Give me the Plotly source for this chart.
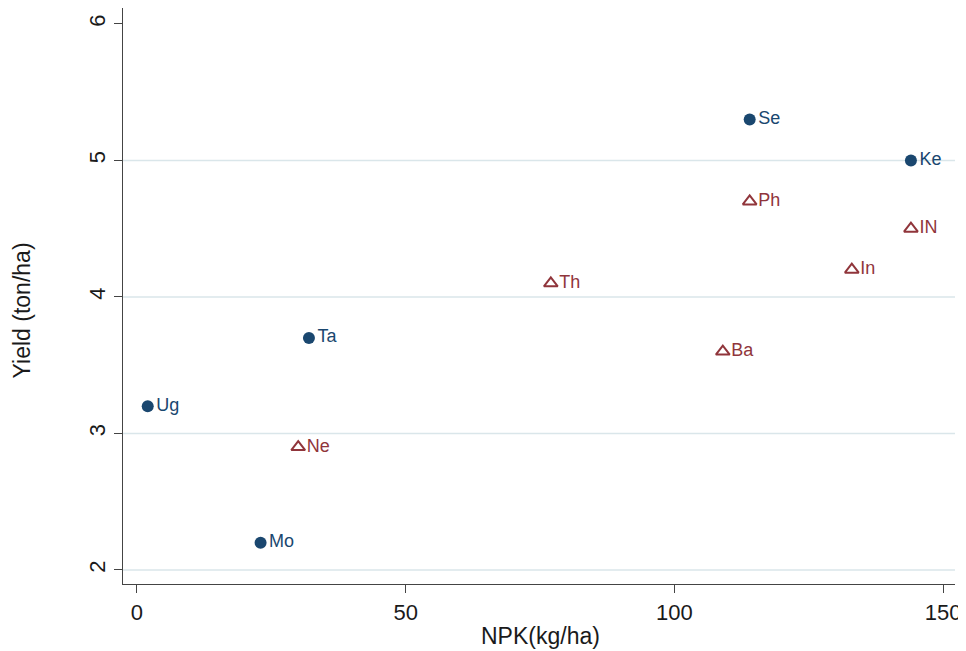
import plotly.graph_objects as go

# Data
circle_labels = ["Ug", "Mo", "Ta", "Se", "Ke"]
circle_npk = [2, 23, 32, 114, 144]
circle_yield = [3.2, 2.2, 3.7, 5.3, 5.0]

tri_labels = ["Ne", "Th", "Ba", "Ph", "In", "IN"]
tri_npk = [30, 77, 109, 114, 133, 144]
tri_yield = [2.9, 4.1, 3.6, 4.7, 4.2, 4.5]

x_ticks = [0, 50, 100, 150]
y_ticks = [2, 3, 4, 5, 6]
grid_vals = [2, 3, 4, 5]

x_title = "NPK(kg/ha)"
y_title = "Yield (ton/ha)"

NAVY = "#1a476f"
MAROON = "#90353b"
FONT = "Liberation Sans, Arial, sans-serif"
TXT = "#1a1a1a"

fig = go.Figure()
fig.add_trace(go.Scatter(
    x=circle_npk, y=circle_yield, text=circle_labels,
    mode="markers+text", textposition="middle right",
    marker=dict(symbol="circle", size=12, color=NAVY),
    textfont=dict(color=NAVY, size=18, family=FONT),
    showlegend=False, cliponaxis=False,
))
fig.add_trace(go.Scatter(
    x=tri_npk, y=tri_yield, text=tri_labels,
    mode="markers+text", textposition="middle right",
    marker=dict(symbol="triangle-up-open", size=12, color=MAROON,
                line=dict(width=2, color=MAROON)),
    textfont=dict(color=MAROON, size=18, family=FONT),
    showlegend=False, cliponaxis=False,
))

shapes = []
for g in grid_vals:
    shapes.append(dict(type="line", xref="paper", x0=0, x1=1, yref="y", y0=g, y1=g,
                       line=dict(color="#dae6ea", width=1.5), layer="below"))

annotations = [
    dict(text=x_title, xref="paper", yref="paper", x=0.502, y=0, yshift=-52,
         showarrow=False, xanchor="center", yanchor="middle",
         font=dict(size=23, family=FONT, color=TXT)),
    dict(text=y_title, xref="paper", yref="paper", x=0, xshift=-101, y=0.475,
         showarrow=False, xanchor="center", yanchor="middle", textangle=-90,
         font=dict(size=23, family=FONT, color=TXT)),
]

# page body adds an 8px offset, so the figure is sized 958x643
fig.update_layout(
    width=958, height=643,
    margin=dict(l=115, r=11, t=0, b=67),
    paper_bgcolor="white", plot_bgcolor="white",
    font=dict(family=FONT, color=TXT),
    shapes=shapes,
    annotations=annotations,
    xaxis=dict(
        range=[-2.6, 152.2], tickvals=x_ticks, showgrid=False, zeroline=False,
        showline=True, linecolor="#444444", linewidth=1.2,
        ticks="outside", ticklen=8, tickcolor="#444444", tickwidth=1.2,
        tickfont=dict(size=22, family=FONT, color=TXT), automargin=False,
    ),
    yaxis=dict(
        range=[1.897, 6.117], tickvals=y_ticks, showgrid=False, zeroline=False,
        showline=True, linecolor="#444444", linewidth=1.2,
        ticks="outside", ticklen=8, tickcolor="#444444", tickwidth=1.2,
        tickangle=-90, automargin=False,
        tickfont=dict(size=22, family=FONT, color=TXT),
    ),
)

fig.write_html("out.html")
